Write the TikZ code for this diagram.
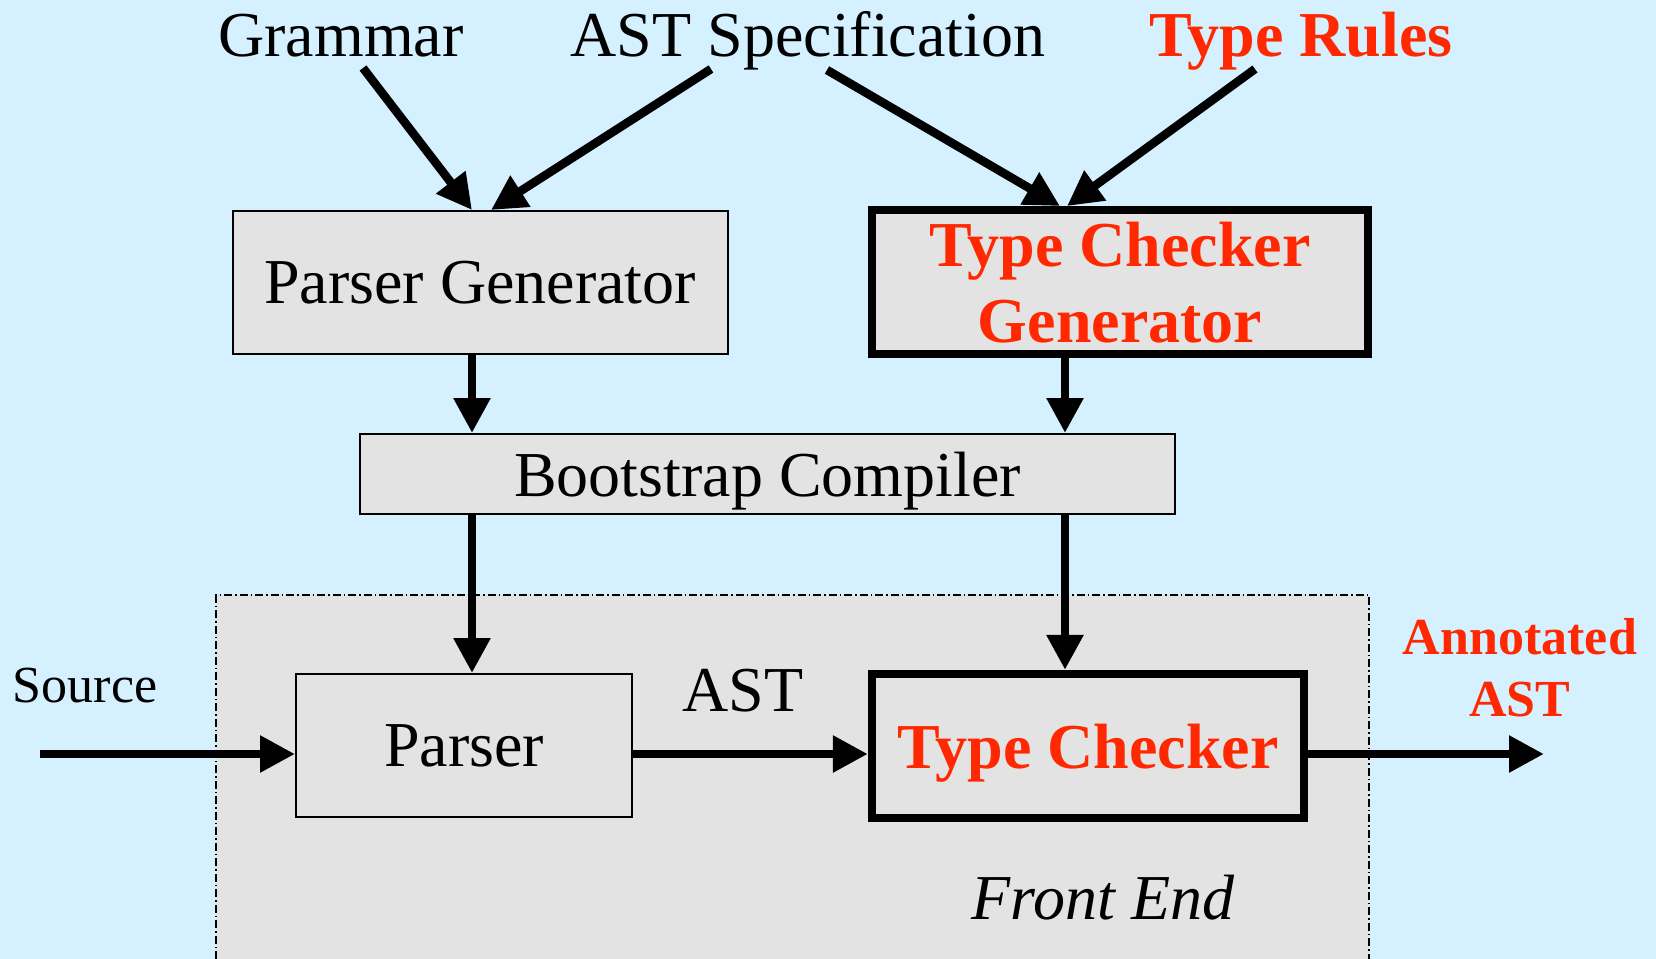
\documentclass[tikz,border=0pt]{standalone}
\usepackage{fontspec}
\setmainfont{Liberation Serif}
\usetikzlibrary{arrows.meta}
\definecolor{bgblue}{RGB}{213,240,255}
\definecolor{boxgray}{RGB}{227,227,227}
\definecolor{hired}{RGB}{255,40,0}
\begin{document}
\begin{tikzpicture}[x=0.5pt,y=-0.5pt,
  arr/.style={line width=4.3pt,-{Triangle[length=17.5pt,width=17.5pt]}},
  bigfont/.style={font=\fontsize{32}{38}\selectfont},
  thinbox/.style={draw=black,line width=1pt,fill=boxgray,inner sep=0pt,text depth=0pt,bigfont},
  thickbox/.style={draw=black,line width=4.15pt,fill=boxgray,inner sep=0pt,text=hired,font=\fontsize{32}{38}\selectfont\bfseries},
  lbl/.style={anchor=base,inner sep=0pt,bigfont},
  redlbl/.style={anchor=base,inner sep=0pt,text=hired,font=\fontsize{32}{38}\selectfont\bfseries},
  frameline/.style={line width=0.8pt,dash pattern=on 4pt off 1.5pt on 0.75pt off 1.5pt}]
\fill[bgblue] (0,0) rectangle (1656,959);
\useasboundingbox (0,0) rectangle (1656,959);
% front end region
\fill[boxgray] (216,595) rectangle (1369,959);
\draw[frameline] (216,959) -- (216,595) -- (1369,595) -- (1369,959);
% boxes
\node[thinbox,minimum width=247.5pt,minimum height=71.5pt] (pg) at (480,282.5) {Parser Generator};
\node[thickbox,minimum width=247.8pt,minimum height=72pt,align=center] (tcg) at (1120,282.2) {Type Checker\\Generator};
\node[thinbox,minimum width=407.5pt,minimum height=40pt] (bc) at (767.5,474) {Bootstrap Compiler};
\node[thinbox,minimum width=168pt,minimum height=71.5pt] (parser) at (464,745.5) {Parser};
\node[thickbox,minimum width=216pt,minimum height=72pt,text depth=0pt] (tc) at (1088,746) {Type Checker};
% labels
\node[lbl] (gram) at (341,56) {Grammar};
\node[lbl] (astspec) at (808,56) {AST Specification};
\node[redlbl] (rules) at (1301,56) {Type Rules};
\node[lbl,font=\fontsize{26}{31}\selectfont] (source) at (85,702) {Source};
\node[lbl] (astl) at (743,711) {AST};
\node[inner sep=0pt,align=center,text=hired,font=\fontsize{26}{31}\selectfont\bfseries] (annot) at (1520,668) {Annotated\\AST};
\node[lbl,font=\fontsize{32}{38}\selectfont\itshape] (fe) at (1103,919) {Front End};
% coordinates
\coordinate (g0) at (363,68);
\coordinate (a0) at (711,69);
\coordinate (a1) at (827,70);
\coordinate (r0) at (1255,69);
\coordinate (xl) at (472,0);
\coordinate (xr) at (1065,0);
\coordinate (src) at (40,754);
\coordinate (out) at (1544,754);
% arrows
\draw[arr] (g0) -- ([xshift=-4pt]pg.north);
\draw[arr] (a0) -- ([xshift=5.5pt]pg.north);
\draw[arr] (a1) -- ([xshift=-30pt]tcg.north);
\draw[arr] (r0) -- ([xshift=-26.5pt]tcg.north);
\draw[arr] (pg.south -| xl) -- (bc.north -| xl);
\draw[arr] (tcg.south -| xr) -- (bc.north -| xr);
\draw[arr] (bc.south -| xl) -- (parser.north -| xl);
\draw[arr] (bc.south -| xr) -- (tc.north -| xr);
\draw[arr] (src) -- (src -| parser.west);
\draw[arr] (parser.east |- src) -- (tc.west |- src);
\draw[arr] (tc.east |- out) -- (out);
\end{tikzpicture}
\end{document}
